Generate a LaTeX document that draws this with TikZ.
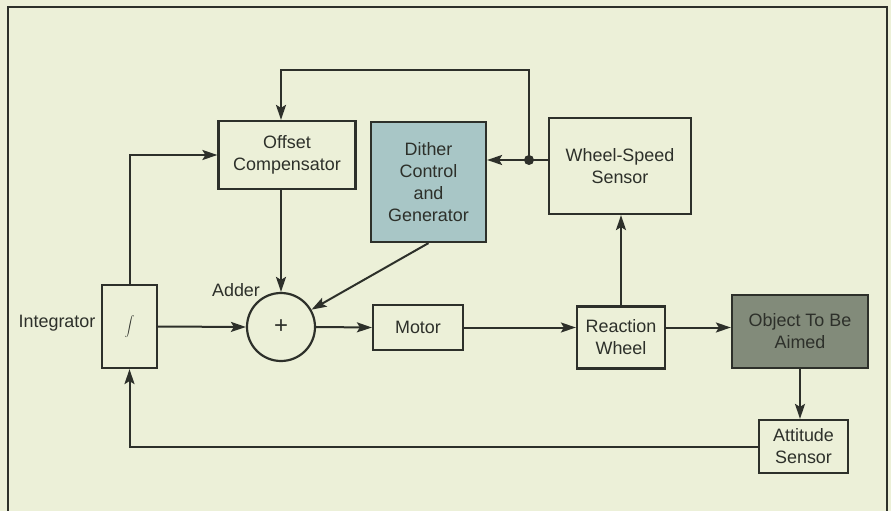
\documentclass[tikz,border=0pt]{standalone}
\usepackage{fontspec}
\setmainfont{Liberation Sans}
\usepackage{xcolor}
\usepackage{tikz}
\usetikzlibrary{calc, arrows.meta, positioning}
\definecolor{paper}{RGB}{236,240,216}
\definecolor{ditherblue}{RGB}{168,198,198}
\definecolor{objgray}{RGB}{130,139,122}
\definecolor{inkgray}{RGB}{45,48,42}

\begin{document}
\begin{tikzpicture}[
  x=1bp, y=-1bp,
  >={Stealth[length=15bp, width=10bp, inset=3bp]},
  every node/.style={font=\fontsize{18}{22}\selectfont, text=inkgray},
  blk/.style={draw=inkgray, line width=2.2bp, align=center, inner sep=0pt},
  sig/.style={->, line width=2bp, draw=inkgray},
  wire/.style={line width=2bp, draw=inkgray}
]
\useasboundingbox (0,0) rectangle (891,511);
\fill[paper] (0,0) rectangle (891,511);
\draw[line width=2bp, inkgray] (8,511) -- (8,7) -- (887,7) -- (887,511);

% blocks
\node[blk, minimum width=137bp, minimum height=68bp] (off) at (287,155) {Offset\\Compensator};
\node[blk, fill=ditherblue, minimum width=115bp, minimum height=120bp] (dith) at (428.5,182) {Dither\\Control\\and\\Generator};
\node[blk, minimum width=142bp, minimum height=96bp] (wss) at (620,166) {Wheel-Speed\\Sensor};
\node[blk, minimum width=55bp, minimum height=83bp, font=\fontsize{22}{26}\selectfont] (intg) at (129.5,326.5) {$\displaystyle\int$};
\node[blk, circle, minimum size=68bp, font=\fontsize{24}{26}\selectfont] (add) at (281,327) {+};
\node[blk, minimum width=90bp, minimum height=45bp] (mot) at (418,327.5) {Motor};
\node[blk, minimum width=88bp, minimum height=62bp] (rw) at (621,337.5) {Reaction\\Wheel};
\node[blk, fill=objgray, minimum width=136bp, minimum height=73bp] (obj) at (800,331.5) {Object To Be\\Aimed};
\node[blk, minimum width=89bp, minimum height=53bp] (att) at (803.5,446.5) {Attitude\\Sensor};

% labels
\node (intlab) at (57,323) {Integrator};
\node (addlab) at (236,290) {Adder};

% forward path
\draw[sig] (intg.east) -- (add.west);
\draw[sig] (add.east) -- (mot.west);
\draw[sig] (mot.east) -- (rw.west |- mot.east);
\draw[sig] (rw.east |- mot.east) -- (obj.west |- mot.east);
\draw[sig] (rw.north) -- (rw.north |- wss.south);
\draw[sig] (obj.south) -- (obj.south |- att.north);
\draw[sig] (off.south -| add.north) -- (add.north);
\draw[sig] (dith.south) -- (add);

% speed feedback
\coordinate (jn) at (529,160);
\coordinate (tp) at (281,70);
\draw[wire] (wss.west |- jn) -- (jn);
\draw[sig] (jn) -- (dith.east |- jn);
\draw[sig] (jn) |- (tp) -- (tp |- off.north);
\fill[inkgray] (jn) circle (5bp);

% attitude feedback
\draw[sig] (intg.north) |- (off.west);
\draw[sig] (att.west) -| (intg.south);
\end{tikzpicture}
\end{document}
